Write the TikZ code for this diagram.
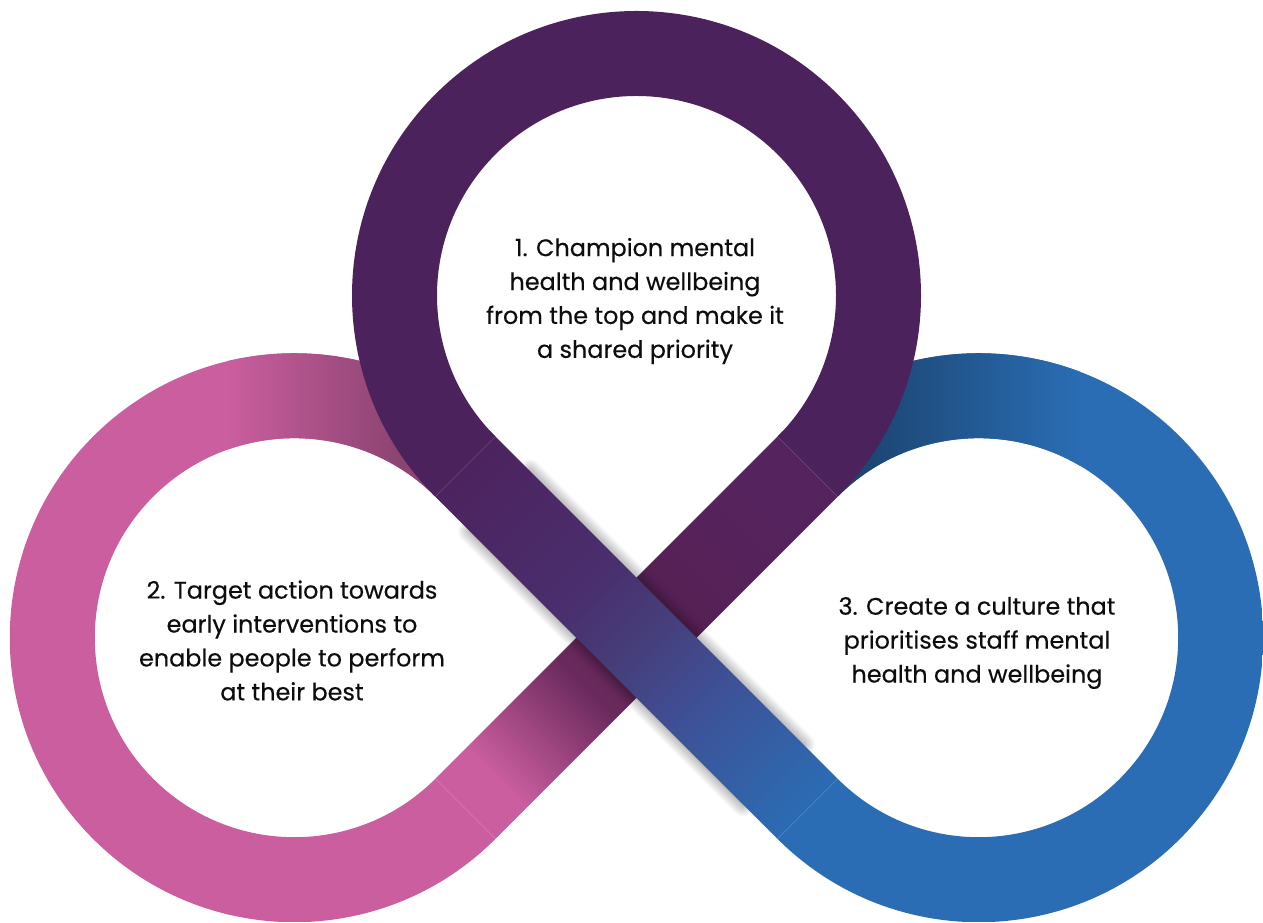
\documentclass[tikz,border=0pt]{standalone}
\usepackage{fontspec}
\setmainfont{Poppins}
\newfontfamily\loopfont{Poppins}[FakeBold=0.35]
\usetikzlibrary{calc,shadows.blur}

\definecolor{ringtop}{HTML}{4C225C}
\definecolor{ringleft}{HTML}{CA5E9E}
\definecolor{ringleftdark}{HTML}{8C4472}
\definecolor{ringright}{HTML}{2A6DB4}
\definecolor{ringrightdark}{HTML}{1B436E}
\definecolor{acA}{HTML}{4C235E}
\definecolor{acB}{HTML}{4A2E6E}
\definecolor{acC}{HTML}{463D78}
\definecolor{acD}{HTML}{3F4F95}
\definecolor{acE}{HTML}{2F66AC}
\definecolor{acF}{HTML}{2B6BB3}
\definecolor{bdA}{HTML}{CA5E9E}
\definecolor{bdB}{HTML}{6B2A5D}
\definecolor{bdC}{HTML}{55204F}
\definecolor{bdD}{HTML}{56225A}
\definecolor{bdE}{HTML}{55245F}

% colour runs of the two crossing bands
\pgfdeclarehorizontalshading{bandac}{100bp}{color(0bp)=(acA); color(19.9bp)=(acA); color(41bp)=(acB); color(50bp)=(acC); color(60.8bp)=(acD); color(75.9bp)=(acE); color(80.1bp)=(acF); color(100bp)=(acF)}
\pgfdeclarehorizontalshading{bandbd}{100bp}{color(0bp)=(bdA); color(25.3bp)=(bdA); color(41bp)=(bdB); color(50bp)=(bdC); color(65bp)=(bdD); color(80.1bp)=(bdE); color(100bp)=(bdE)}

\tikzset{
  loopText/.style={align=center, text=black!95, font=\loopfont\fontsize{13.6}{19.3}\selectfont},
  seam/.style={line width=0.3pt, white, opacity=0.15},
}

\begin{document}
\begin{tikzpicture}[x=0.02cm, y=0.02cm]
  \useasboundingbox (0,0) rectangle (1263,922);

  % loop centres
  \coordinate (T) at (636.5,626.5);
  \coordinate (L) at (294.3,284.3);
  \coordinate (R) at (978.7,284.3);
  % where loops and bands meet, outer and inner edge
  \path (T) ++(225:284.5) coordinate (ao) ++(45:85) coordinate (ai);
  \path (T) ++(-45:284.5) coordinate (bo) ++(135:85) coordinate (bi);
  \path (R) ++(225:284.5) coordinate (co) ++(45:85) coordinate (ci);
  \path (L) ++(-45:284.5) coordinate (do) ++(135:85) coordinate (di);

  % left loop
  \begin{scope}
    \clip (ai) arc[start angle=45, end angle=315, radius=284.5] -- (di)
      arc[start angle=315, end angle=45, radius=199.5] -- cycle;
    \fill[ringleft] (0,0) rectangle (600,922);
    \shade[left color=ringleft, right color=ringleftdark] (228,284.3) rectangle (400,922);
    \fill[ringleftdark] (400,284.3) rectangle (600,922);
  \end{scope}

  % right loop
  \begin{scope}
    \clip (bi) arc[start angle=135, end angle=-135, radius=284.5] -- (ci)
      arc[start angle=-135, end angle=135, radius=199.5] -- cycle;
    \fill[ringright] (660,0) rectangle (1263,922);
    \fill[ringrightdark] (660,284.3) rectangle (850,922);
    \shade[left color=ringrightdark, right color=ringright] (850,284.3) rectangle (1080,922);
  \end{scope}

  % band from the top loop down to the left loop
  \shade[shading=bandbd, shading angle=45] (bo) -- (bi) -- (di) -- (do) -- cycle;

  % top loop
  \fill[ringtop] (ao) arc[start angle=225, end angle=-45, radius=284.5] -- (bi)
    arc[start angle=-45, end angle=225, radius=199.5] -- cycle;

  % band from the top loop down to the right loop, lying over the other one
  \path[blur shadow={shadow xshift=0pt, shadow yshift=0pt, shadow blur radius=7pt,
      shadow blur steps=20, shadow opacity=55}]
    ($(ao)!0.1!(co)$) -- ($(ai)!0.1!(ci)$) -- ($(ai)!0.9!(ci)$) -- ($(ao)!0.9!(co)$) -- cycle;
  \shade[shading=bandac, shading angle=-45] (ao) -- (ai) -- (ci) -- (co) -- cycle;

  \draw[seam] (ao) -- (ai);
  \draw[seam] (bo) -- (bi);
  \draw[seam] (co) -- (ci);
  \draw[seam] (do) -- (di);

  \node[loopText] (txtTop) at (635,621) {1. Champion mental\\health and wellbeing\\from the top and make it\\a shared priority};
  \node[loopText] (txtLeft) at (292,281.5) {2. Target action towards\\early interventions to\\enable people to perform\\at their best};
  \node[loopText] (txtRight) at (977,279) {3. Create a culture that\\prioritises staff mental\\health and wellbeing};
\end{tikzpicture}
\end{document}
